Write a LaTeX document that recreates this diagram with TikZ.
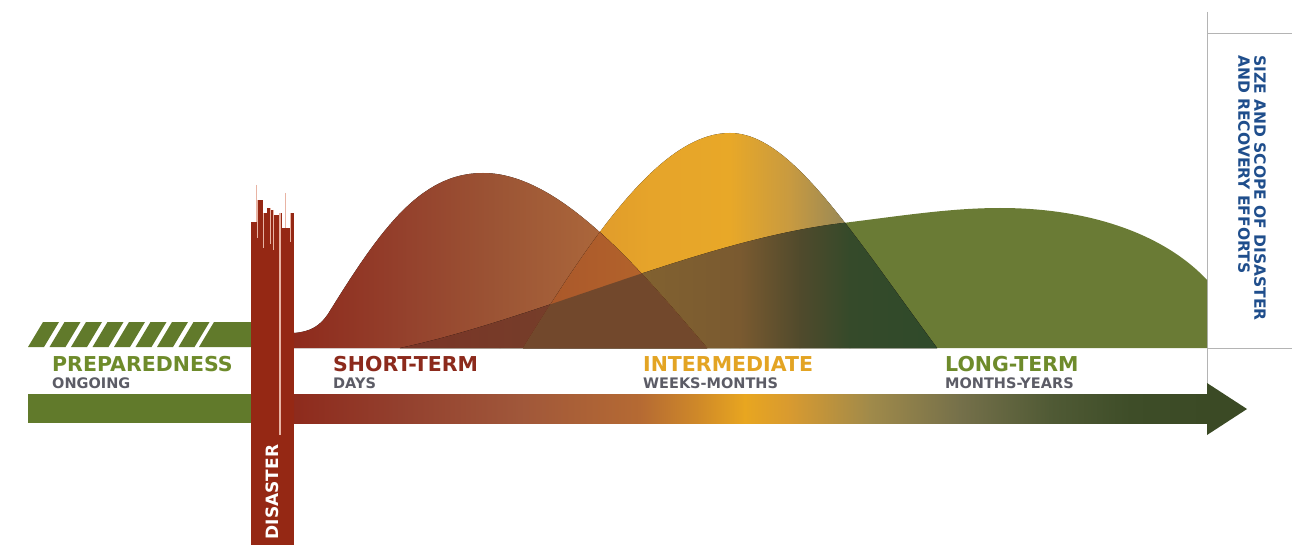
\documentclass[tikz,border=0pt]{standalone}
\usepackage{fontspec}
\setmainfont{DejaVu Sans}
\definecolor{disred}{HTML}{952814}
\definecolor{barGreen}{HTML}{617A2B}
\definecolor{prepGreen}{HTML}{6E8B2B}
\definecolor{shortRed}{HTML}{8C2A1C}
\definecolor{interGold}{HTML}{E3A423}
\definecolor{subGray}{HTML}{5C5C66}
\definecolor{navyText}{HTML}{1F4E8C}
\definecolor{LT}{HTML}{6A7B35}
\definecolor{S1}{HTML}{8E2A1C}\definecolor{S2}{HTML}{94402C}\definecolor{S3}{HTML}{9C5535}
\definecolor{S4}{HTML}{AE6A3C}\definecolor{S5}{HTML}{B8773F}
\definecolor{I1}{HTML}{D8902C}\definecolor{I2}{HTML}{E6A42A}\definecolor{I3}{HTML}{E8A828}
\definecolor{I4}{HTML}{C89A40}\definecolor{I5}{HTML}{9C8A55}\definecolor{I6}{HTML}{5E6040}
\definecolor{SL1}{HTML}{7A3426}\definecolor{SL2}{HTML}{753E2A}\definecolor{SL3}{HTML}{6E4A2E}
\definecolor{SI1}{HTML}{A8552A}\definecolor{SI2}{HTML}{B86A2C}
\definecolor{IL1}{HTML}{8A6A30}\definecolor{IL2}{HTML}{7A5A30}\definecolor{IL3}{HTML}{504A2C}
\definecolor{IL4}{HTML}{354A2A}\definecolor{IL5}{HTML}{2F4A2A}
\definecolor{ALL}{HTML}{72482C}
\definecolor{A1}{HTML}{8E2A1C}\definecolor{A2}{HTML}{93402E}\definecolor{A3}{HTML}{A0573A}
\definecolor{A4}{HTML}{B56A33}\definecolor{A5}{HTML}{D08A28}\definecolor{A6}{HTML}{E8A620}
\definecolor{A7}{HTML}{D89A30}\definecolor{A8}{HTML}{A08A4A}\definecolor{A9}{HTML}{75704A}
\definecolor{A10}{HTML}{505A35}\definecolor{A11}{HTML}{3E4D28}\definecolor{A12}{HTML}{3B4A25}
\definecolor{spikePale}{HTML}{E8B4A4}
\definecolor{lineGray}{HTML}{B4B4B4}
\tikzset{
  bigLabel/.style={anchor=base west, inner sep=0, font=\bfseries\fontsize{20.5}{21}\selectfont},
  subLabel/.style={anchor=base west, inner sep=0, text=subGray, font=\bfseries\fontsize{14.5}{15}\selectfont},
  frameLine/.style={draw=lineGray, line width=0.9pt},
}
\begin{document}
\begin{tikzpicture}[x=1pt,y=-1pt]
\useasboundingbox (0,0) rectangle (1292,545);
\fill[white] (0,0) rectangle (1292,545);
\def\longp{(400,348) .. controls (540,318) and (700,240) .. (843,223) .. controls (900,216) and (950,208) .. (1000,208) .. controls (1100,208) and (1170,240) .. (1207,280) -- (1207,348) -- cycle}
\def\interp{(523,348) .. controls (590,240) and (660,133) .. (730,133) .. controls (790,133) and (850,230) .. (937,348) -- cycle}
\def\shortp{(293.5,348) -- (293.5,333) .. controls (310,332) and (320,326) .. (328,314) .. controls (380,230) and (420,173) .. (483,173) .. controls (560,173) and (640,270) .. (707,348) -- cycle}
% right frame lines
\draw[frameLine] (1207,12) -- (1207,384);
\draw[frameLine] (1207,33) -- (1292,33);
\draw[frameLine] (1207,348) -- (1292,348);
% long-term
\fill[LT] \longp;
% intermediate
\begin{scope}
\clip \interp;
\foreach \xa/\xb/\ca/\cb in {520/650/I1/I2, 650/730/I2/I3, 730/790/I3/I4, 790/840/I4/I5, 840/940/I5/I6}
  {\fill[left color=\ca, right color=\cb] (\xa-0.4,90) rectangle (\xb+0.4,352);}
\end{scope}
% short-term
\begin{scope}
\clip \shortp;
\foreach \xa/\xb/\ca/\cb in {292/400/S1/S2, 400/500/S2/S3, 500/620/S3/S4, 620/710/S4/S5}
  {\fill[left color=\ca, right color=\cb] (\xa-0.4,90) rectangle (\xb+0.4,352);}
\end{scope}
% intermediate & long
\begin{scope}
\clip \interp; \clip \longp;
\foreach \xa/\xb/\ca/\cb in {520/740/IL1/IL2, 740/800/IL2/IL3, 800/850/IL3/IL4, 850/940/IL4/IL5}
  {\fill[left color=\ca, right color=\cb] (\xa-0.4,90) rectangle (\xb+0.4,352);}
\end{scope}
% short & long
\begin{scope}
\clip \shortp; \clip \longp;
\foreach \xa/\xb/\ca/\cb in {398/560/SL1/SL2, 560/710/SL2/SL3}
  {\fill[left color=\ca, right color=\cb] (\xa-0.4,90) rectangle (\xb+0.4,352);}
\end{scope}
% short & intermediate
\begin{scope}
\clip \shortp; \clip \interp;
\fill[left color=SI1, right color=SI2] (520,90) rectangle (710,352);
\end{scope}
% all three
\begin{scope}
\clip \shortp; \clip \interp; \clip \longp;
\fill[ALL] (520,90) rectangle (710,352);
\end{scope}
% preparedness hatched bar
\foreach \i in {0,...,7}
  {\fill[barGreen] ({28+21.5*\i},347) -- ({44+21.5*\i},347) -- ({59+21.5*\i},322) -- ({43+21.5*\i},322) -- cycle;}
\fill[barGreen] (199,347) -- (252,347) -- (252,322) -- (214,322) -- cycle;
% preparedness solid bar
\fill[barGreen] (28,394) rectangle (252,423);
% gradient time arrow
\foreach \xa/\xb/\ca/\cb in {292/400/A1/A2, 400/520/A2/A3, 520/640/A3/A4, 640/700/A4/A5, 700/745/A5/A6, 745/790/A6/A7, 790/870/A7/A8, 870/960/A8/A9, 960/1050/A9/A10, 1050/1130/A10/A11, 1130/1208/A11/A12}
  {\fill[left color=\ca, right color=\cb] (\xa-0.4,394) rectangle (\xb+0.4,423);}
\fill[A12] (1207,383) -- (1247,409) -- (1207,435) -- cycle;
% disaster bar
\fill[disred] (251,236) rectangle (294,545);
\foreach \xa/\xb/\yt in {251/257/222, 257/263/200, 263/267/213, 267/270/208, 270/273/210, 273/279/215, 279/282/213, 282/290/228, 290/294/213}
  {\fill[disred] (\xa,\yt) rectangle (\xb,240);}
\draw[spikePale, line width=0.9pt] (256.5,185) -- (256.5,222);
\draw[spikePale, line width=0.9pt] (285,193) -- (285,228);
\foreach \xl/\yt/\yb in {257/200/238, 263/213/248, 270/208/244, 273/210/250, 290/213/242}
  {\draw[spikePale, line width=0.6pt] (\xl,\yt) -- (\xl,\yb);}
\draw[spikePale, line width=1.6pt] (280,213) -- (280,435);
\node[rotate=90, inner sep=0, text=white, font=\bfseries\fontsize{17}{17}\selectfont] (dis) at (272,492) {DISASTER};
% labels
\node[bigLabel, text=prepGreen] (prep) at (52,371) {PREPAREDNESS};
\node[subLabel] (ongo) at (52,388) {ONGOING};
\node[bigLabel, text=shortRed] (short) at (333,371) {SHORT-TERM};
\node[subLabel] (days) at (333,388) {DAYS};
\node[bigLabel, text=interGold] (inter) at (643,371) {INTERMEDIATE};
\node[subLabel] (weeks) at (643,388) {WEEKS-MONTHS};
\node[bigLabel, text=prepGreen] (long) at (945,371) {LONG-TERM};
\node[subLabel] (months) at (945,388) {MONTHS-YEARS};
\node[rotate=-90, anchor=north west, align=left, inner sep=0, text=navyText, font=\bfseries\fontsize{15.5}{16}\selectfont] (size) at (1266,55) {SIZE AND SCOPE OF DISASTER\\AND RECOVERY EFFORTS};
\end{tikzpicture}
\end{document}
